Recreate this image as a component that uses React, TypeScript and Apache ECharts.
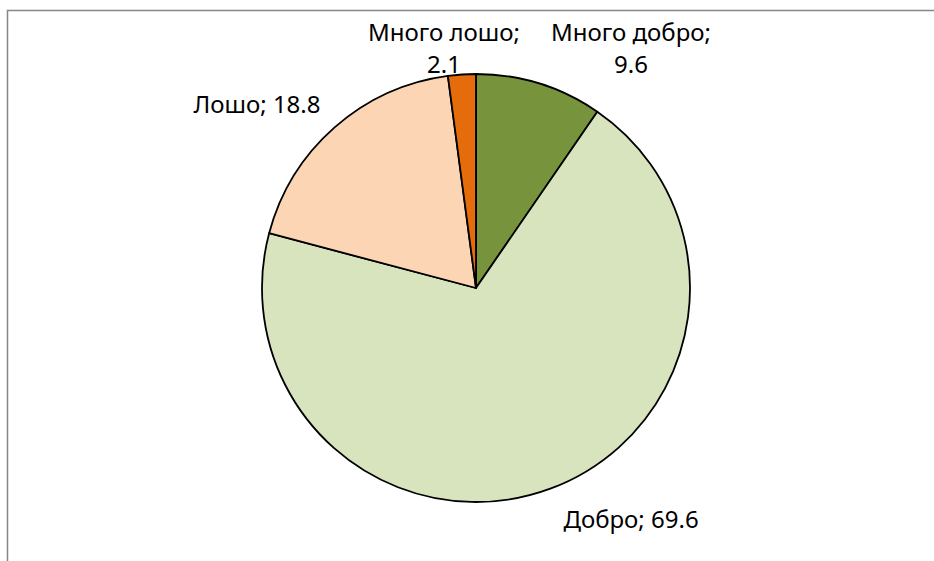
import React, { useEffect, useRef } from "react";
import * as echarts from "echarts";

const categories = ["Много добро", "Добро", "Лошо", "Много лошо"];
const values = [9.6, 69.6, 18.8, 2.1];
const colors = ["#77933C", "#D7E4BD", "#FCD5B5", "#E46C0A"];
// label text templates (Excel line breaks)
const labelBreaks = ["\n", " ", " ", "\n"];
// label centers (layout only)
const labelCenters: [number, number][] = [
  [631, 47],
  [631, 518],
  [257, 103],
  [444, 47],
];

export default function App() {
  const ref = useRef<HTMLDivElement>(null);
  useEffect(() => {
    document.body.style.margin = "0";
    const chart = echarts.init(ref.current!, undefined, { renderer: "svg" });
    chart.setOption({
      animation: false,
      backgroundColor: "#ffffff",
      graphic: [
        {
          type: "rect",
          shape: { x: 7.5, y: 10.5, width: 1000, height: 700 },
          style: { fill: "none", stroke: "#868686", lineWidth: 1.5 },
          silent: true,
          z: -1,
        },
      ],
      series: [
        {
          type: "pie",
          center: [476, 288],
          radius: 214,
          startAngle: 90,
          clockwise: true,
          data: categories.map((c, i) => ({
            name: c,
            value: values[i],
            itemStyle: { color: colors[i] },
            label: {
              formatter: `${c};${labelBreaks[i]}${values[i].toFixed(1)}`,
            },
          })),
          itemStyle: { borderColor: "#000000", borderWidth: 1.8 },
          label: {
            show: true,
            position: "outside",
            fontFamily: "Noto Sans",
            fontSize: 24,
            color: "#000000",
            lineHeight: 32,
            align: "center",
          },
          labelLine: { show: false },
          labelLayout: (p: any) => ({
            x: labelCenters[p.dataIndex][0],
            y: labelCenters[p.dataIndex][1],
            align: "center",
            verticalAlign: "middle",
          }),
        },
      ],
    });
    return () => chart.dispose();
  }, []);
  return <div ref={ref} style={{ width: 934, height: 561 }} />;
}
